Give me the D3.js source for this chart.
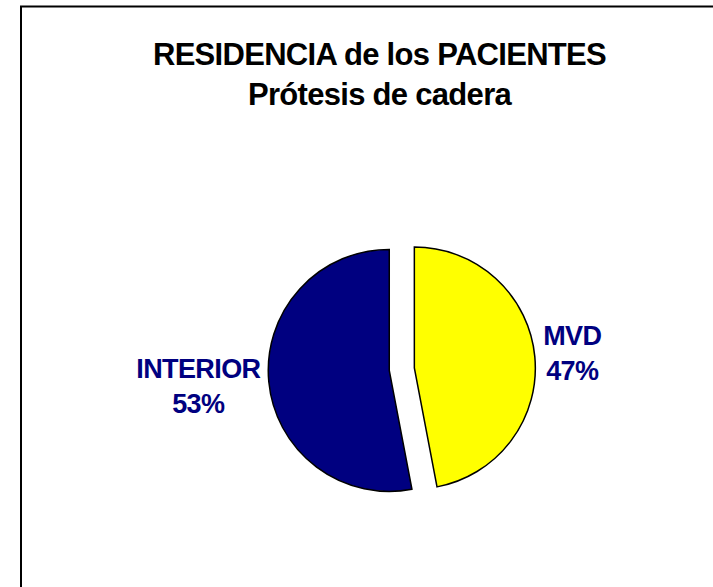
<!DOCTYPE html>
<html>
<head>
<meta charset="utf-8">
<script src="https://cdn.jsdelivr.net/npm/d3@7"></script>
<style>
  html, body { margin: 0; padding: 0; background: #ffffff; }
  svg { display: block; }
  text { font-family: "Liberation Sans", Arial, sans-serif; font-weight: bold; }
</style>
</head>
<body>
<svg id="chart" width="713" height="587"></svg>
<script>
const titleLines = ["RESIDENCIA de los PACIENTES", "Prótesis de cadera"];
const categories = ["MVD", "INTERIOR"];
const values = [47, 53];
const colors = ["#FFFF00", "#000080"];

const W = 713, H = 587;
const svg = d3.select("#chart");

// chart frame (extends past right/bottom edges of the window)
svg.append("rect")
  .attr("x", 21).attr("y", 6.5)
  .attr("width", 717).attr("height", 620)
  .attr("fill", "#ffffff")
  .attr("stroke", "#000000")
  .attr("stroke-width", 2);

// title
const titleX = 379.5;
svg.append("g").selectAll("text")
  .data(titleLines)
  .join("text")
  .attr("x", titleX)
  .attr("y", (d, i) => 65 + i * 39.5)
  .attr("text-anchor", "middle")
  .attr("font-size", 31)
  .attr("letter-spacing", -0.7)
  .attr("fill", "#000000")
  .text(d => d);

// pie
const cx = 401.8, cy = 369.2, R = 121, explode = 12.6;
const data = categories.map((c, i) => ({ name: c, value: values[i], color: colors[i] }));
const pie = d3.pie().value(d => d.value).sort(null).startAngle(0).endAngle(2 * Math.PI);
const arcs = pie(data);
const arc = d3.arc().innerRadius(0).outerRadius(R);

const g = svg.append("g").attr("transform", `translate(${cx},${cy})`);
g.selectAll("path")
  .data(arcs)
  .join("path")
  .attr("transform", d => {
    const a = (d.startAngle + d.endAngle) / 2;
    return `translate(${Math.sin(a) * explode},${-Math.cos(a) * explode})`;
  })
  .attr("d", arc)
  .attr("fill", d => d.data.color)
  .attr("stroke", "#000000")
  .attr("stroke-width", 1.5)
  .attr("stroke-linejoin", "miter");

// labels
const labelR = 142;
const total = d3.sum(values);
const fmt = d => Math.round(d.value / total * 100) + "%";
arcs.forEach(d => {
  const a = (d.startAngle + d.endAngle) / 2;
  const px = Math.sin(a) * labelR;
  const py = -Math.cos(a) * labelR;
  const right = Math.sin(a) >= 0;
  const lg = g.append("g");
  const lines = [d.data.name, fmt(d)];
  const texts = lg.selectAll("text")
    .data(lines)
    .join("text")
    .attr("text-anchor", "middle")
    .attr("font-size", 27)
    .attr("letter-spacing", -0.6)
    .attr("fill", "#000080")
    .attr("y", (t, i) => py - 8.5 + i * 35 + (right ? -2 : 4))
    .text(t => t);
  let w = 0;
  texts.each(function () { w = Math.max(w, this.getComputedTextLength()); });
  const bx = right ? px + w / 2 : px - w / 2;
  texts.attr("x", bx);
});
</script>
</body>
</html>
